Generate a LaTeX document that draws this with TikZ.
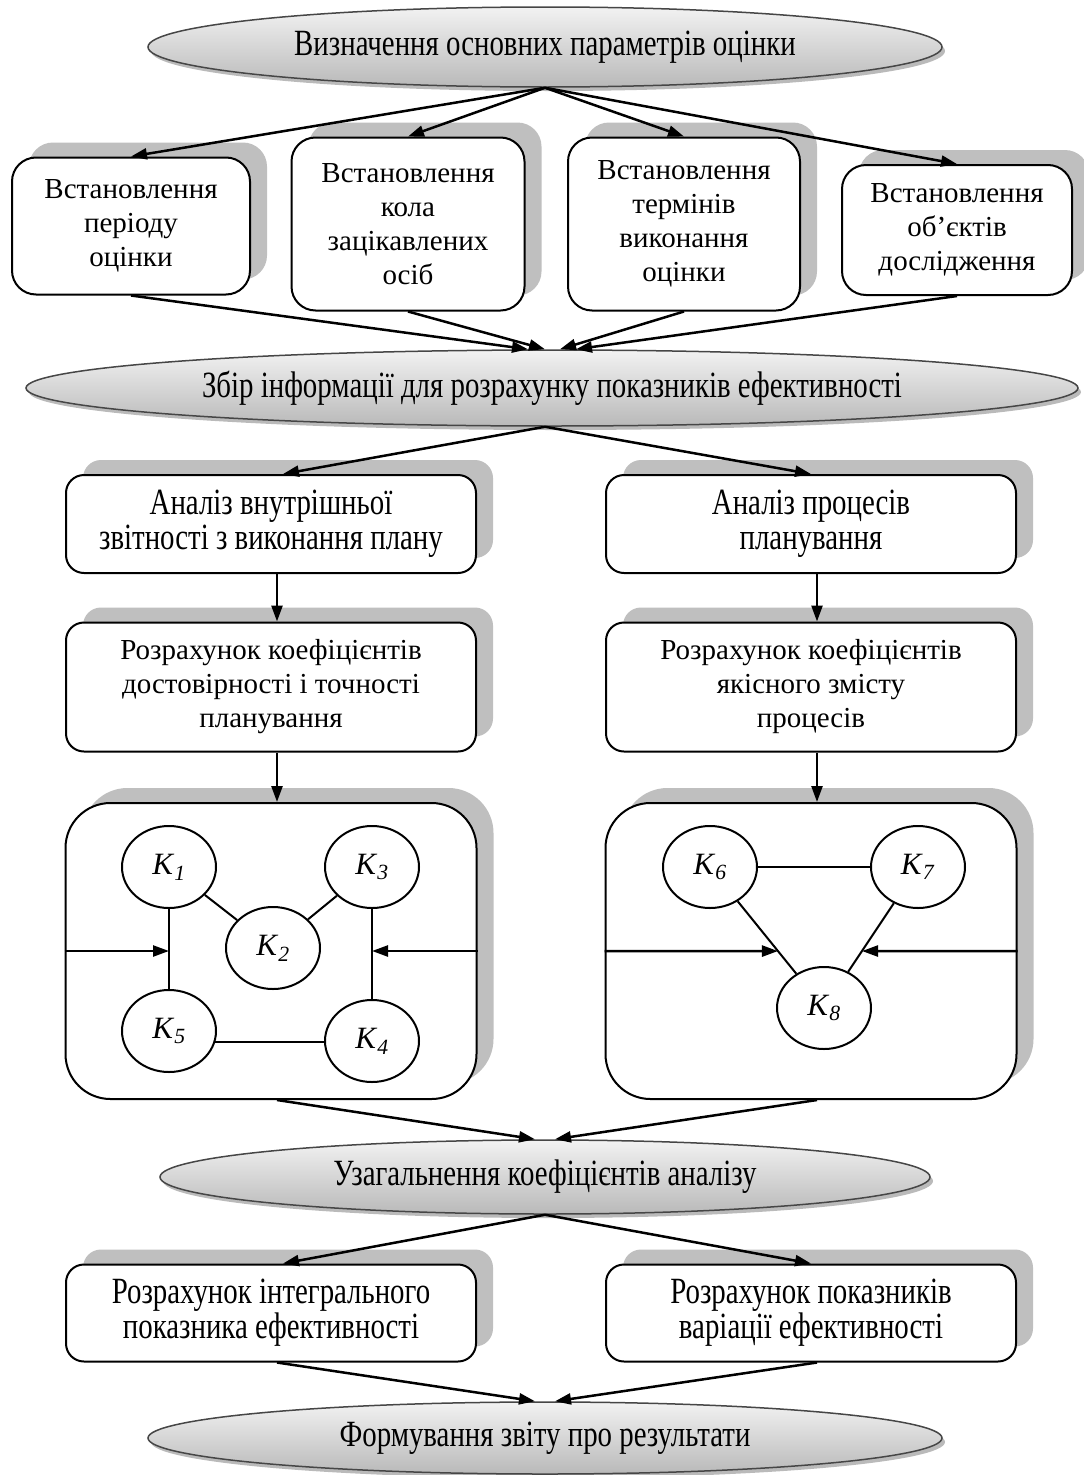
\documentclass[tikz,border=0pt]{standalone}
\usepackage{fontspec}
\setmainfont{Liberation Serif}
\newfontfamily\narrowfont[FakeStretch=0.78]{Liberation Serif}
\usetikzlibrary{shapes.geometric, shadows, arrows.meta}
\tikzset{oval/.style = {ellipse, draw=gray!55!black, line width=1.5pt, top color=gray!10, bottom color=gray!55, inner sep=0, font=\narrowfont\fontsize{37}{40}\selectfont, drop shadow={shadow xshift=3pt, shadow yshift=-4pt, fill=black!45, opacity=0.6}}}
\tikzset{rbox/.style = {draw, fill=white, line width=2pt, rounded corners=24pt, align=center, inner sep=0, drop shadow={shadow xshift=17pt, shadow yshift=15pt, fill=black!25, opacity=1}}}
\tikzset{nbox/.style = {rbox, rounded corners=18pt, font=\narrowfont\fontsize{37}{35}\selectfont}}
\tikzset{kcirc/.style = {draw, fill=white, ellipse, line width=2pt, inner sep=0, minimum width=94pt, minimum height=82pt, font=\fontsize{31}{34}\selectfont}}
\tikzset{arr/.style = {line width=2.5pt, -{Triangle[length=16pt, width=11pt]}}}
\newcommand{\kk}[1]{\textit{K}\textsubscript{\textit{#1}}}

\begin{document}
\begin{tikzpicture}[x=1pt, y=-1pt, font=\fontsize{29}{34}\selectfont]
    \useasboundingbox (0, 0) rectangle (1084, 1475);

    \node [oval, minimum width=794pt, minimum height=80pt] (E1) at (545, 47) {Визначення основних параметрів оцінки};

    \node [rbox, minimum width=238pt, minimum height=137pt] (B1) at (131, 226) {Встановлення\\періоду\\оцінки};
    \node [rbox, minimum width=233pt, minimum height=173pt] (B2) at (408, 224) {Встановлення\\кола\\зацікавлених\\осіб};
    \node [rbox, minimum width=232pt, minimum height=173pt] (B3) at (684, 224) {Встановлення\\термінів\\виконання\\оцінки};
    \node [rbox, minimum width=230pt, minimum height=130pt] (B4) at (957, 230) {Встановлення\\об’єктів\\дослідження};

    \draw [arr] (E1.south) -- (B1.north);
    \draw [arr] (E1.south) -- (B2.north);
    \draw [arr] (E1.south) -- (B3.north);
    \draw [arr] (E1.south) -- (B4.north);

    \node [oval, minimum width=1052pt, minimum height=76pt] (E2) at (552, 388) {Збір інформації для розрахунку показників ефективності};

    \draw [arr] (B1.south) -- ([xshift=-24]E2.north);
    \draw [arr] (B2.south) -- ([xshift=-7]E2.north);
    \draw [arr] (B3.south) -- ([xshift=8]E2.north);
    \draw [arr] (B4.south) -- ([xshift=24]E2.north);

    \node [nbox, minimum width=410pt, minimum height=98pt] (A1) at (271, 524) {Аналіз внутрішньої\\звітності з виконання плану};
    \node [nbox, minimum width=410pt, minimum height=98pt] (A2) at (811, 524) {Аналіз процесів\\планування};
    \draw [arr] ([xshift=-7]E2.south) -- ([xshift=12]A1.north);
    \draw [arr] ([xshift=-7]E2.south) -- (A2.north);

    \node [rbox, rounded corners=18pt, minimum width=410pt, minimum height=129pt] (R1) at (271, 687) {Розрахунок коефіцієнтів\\достовірності і точності\\планування};
    \node [rbox, rounded corners=18pt, minimum width=410pt, minimum height=129pt] (R2) at (811, 687) {Розрахунок коефіцієнтів\\якісного змісту\\процесів};
    \draw [arr] ([xshift=6]A1.south) -- ([xshift=6]R1.north);
    \draw [arr] ([xshift=6]A2.south) -- ([xshift=6]R2.north);

    % groups of coefficients
    \node [rbox, rounded corners=45pt, minimum width=411pt, minimum height=296pt] (G1) at (271, 951) {};
    \node [rbox, rounded corners=45pt, minimum width=411pt, minimum height=296pt] (G2) at (811, 951) {};
    \draw [arr] ([xshift=6]R1.south) -- ([xshift=6]G1.north);
    \draw [arr] ([xshift=6]R2.south) -- ([xshift=6]G2.north);

    \node [kcirc] (K1) at (169, 867) {\kk{1}};
    \node [kcirc] (K2) at (273, 948) {\kk{2}};
    \node [kcirc] (K3) at (372, 867) {\kk{3}};
    \node [kcirc] (K4) at (372, 1041) {\kk{4}};
    \node [kcirc] (K5) at (169, 1031) {\kk{5}};
    \draw [line width=2pt] (K1) -- (K2) -- (K3);
    \draw [line width=2pt] (K1) -- (K5);
    \draw [line width=2pt] (K3) -- (K4);
    \draw [line width=2pt] (K5.-13) -- (K5.-13 -| K4.west);
    \draw [arr] (G1.west) -- (G1.west -| K1);
    \draw [arr] (G1.east) -- (G1.east -| K3);

    \node [kcirc] (K6) at (710, 867) {\kk{6}};
    \node [kcirc] (K7) at (918, 867) {\kk{7}};
    \node [kcirc] (K8) at (824, 1008) {\kk{8}};
    \draw [line width=2pt] (K6) -- (K7);
    \draw [line width=2pt] (K6) -- (K8) -- (K7);
    \draw [arr] (G2.west) -- (intersection of K6--K8 and G2.west--G2.east);
    \draw [arr] (G2.east) -- (intersection of K7--K8 and G2.west--G2.east);

    \node [oval, minimum width=770pt, minimum height=74pt] (E3) at (545, 1177) {Узагальнення коефіцієнтів аналізу};
    \draw [arr] ([xshift=6]G1.south) -- ([xshift=-10]E3.north);
    \draw [arr] ([xshift=6]G2.south) -- ([xshift=10]E3.north);

    \node [nbox, minimum width=410pt, minimum height=97pt] (F1) at (271, 1313) {Розрахунок інтегрального\\показника ефективності};
    \node [nbox, minimum width=410pt, minimum height=97pt] (F2) at (811, 1313) {Розрахунок показників\\варіації ефективності};
    \draw [arr] (E3.south) -- ([xshift=12]F1.north);
    \draw [arr] (E3.south) -- (F2.north);

    \node [oval, minimum width=794pt, minimum height=72pt] (E4) at (545, 1438) {Формування звіту про результати};
    \draw [arr] ([xshift=6]F1.south) -- ([xshift=-10]E4.north);
    \draw [arr] ([xshift=6]F2.south) -- ([xshift=10]E4.north);
\end{tikzpicture}
\end{document}
